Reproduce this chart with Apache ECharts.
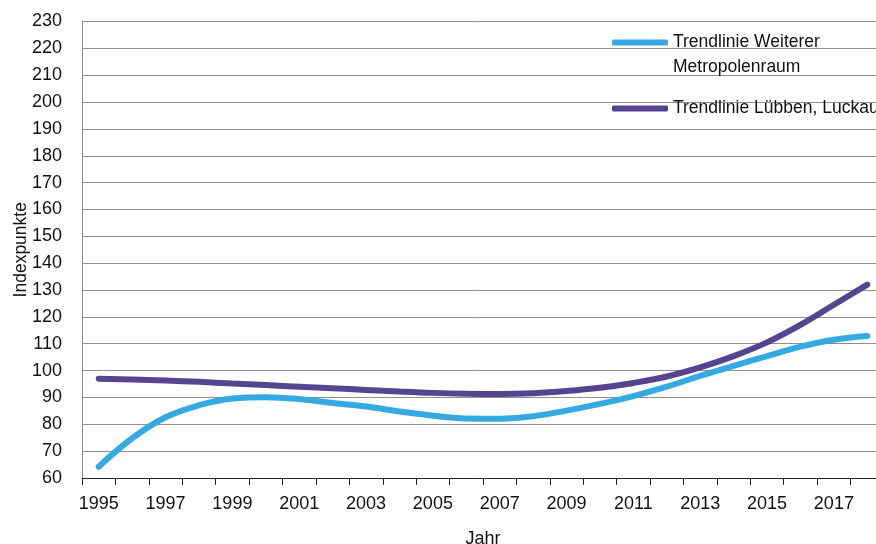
<!DOCTYPE html>
<html>
<head>
<meta charset="utf-8">
<script src="https://cdn.jsdelivr.net/npm/echarts@6/dist/echarts.min.js"></script>
<style>
html,body{margin:0;padding:0;background:#fff;}
#chart{width:876px;height:544px;}
</style>
</head>
<body>
<div id="chart"></div>
<script>
// Jahre (Kategorien)
var years = ['1995','1996','1997','1998','1999','2000','2001','2002','2003','2004','2005','2006',
             '2007','2008','2009','2010','2011','2012','2013','2014','2015','2016','2017','2018'];
// Trendlinie Weiterer Metropolenraum
var metro = [64.2, 74.8, 82.6, 87.1, 89.6, 90.1, 89.4, 87.9, 86.6, 84.8, 83.2, 82.2,
             82.1, 83.0, 85.1, 87.6, 90.5, 94.0, 98.0, 101.8, 105.4, 108.9, 111.5, 112.9];
// Trendlinie Lübben, Luckau
var luebben = [97.0, 96.7, 96.3, 95.8, 95.2, 94.6, 94.0, 93.4, 92.8, 92.2, 91.7, 91.4,
               91.3, 91.6, 92.4, 93.6, 95.4, 97.8, 101.2, 105.4, 110.5, 117.0, 124.5, 132.0];

var nameMetro = 'Trendlinie Weiterer Metropolenraum';
var nameLuebben = 'Trendlinie Lübben, Luckau';

var chart = echarts.init(document.getElementById('chart'));
var font = 'Liberation Sans';
option = {
    animation: false,
    grid: {
        left: 82,
        right: -8,
        top: 21.5,
        bottom: 66,
        containLabel: false,
        outerBoundsMode: 'none'
    },
    legend: {
        orient: 'vertical',
        left: 612,
        top: 5,
        padding: 0,
        itemGap: 16,
        itemWidth: 56,
        itemHeight: 6,
        icon: 'roundRect',
        selectedMode: false,
        data: [nameMetro, nameLuebben],
        formatter: function(name){
            if (name == nameMetro) {
                return '\nTrendlinie Weiterer\nMetropolenraum';
            }
            return name;
        },
        textStyle: {
            fontFamily: font,
            fontSize: 17.5,
            lineHeight: 25,
            color: '#111'
        }
    },
    xAxis: {
        type: 'category',
        data: years,
        boundaryGap: true,
        name: 'Jahr',
        nameLocation: 'middle',
        nameGap: 52,
        nameMoveOverlap: false,
        nameTextStyle: {fontFamily: font, fontSize: 18, color: '#111'},
        axisLine: {lineStyle: {color: '#222', width: 1}},
        axisTick: {show: true, interval: 0, length: 7, lineStyle: {color: '#222'}},
        axisLabel: {interval: 1, margin: 17, fontFamily: font, fontSize: 18, color: '#111'},
        splitLine: {show: false}
    },
    yAxis: {
        type: 'value',
        min: 60,
        max: 230,
        interval: 10,
        name: 'Indexpunkte',
        nameLocation: 'middle',
        nameGap: 52,
        nameMoveOverlap: false,
        nameTextStyle: {fontFamily: font, fontSize: 17.5, color: '#111'},
        axisLine: {show: true, lineStyle: {color: '#888'}},
        axisTick: {show: false},
        axisLabel: {margin: 20, fontFamily: font, fontSize: 18, color: '#111'},
        splitLine: {lineStyle: {color: '#8f8f8f', width: 1}}
    },
    series: [
        {
            name: nameMetro,
            type: 'line',
            data: metro,
            smooth: 0.4,
            symbol: 'none',
            lineStyle: {color: '#35a9e1', width: 6, cap: 'round'},
            itemStyle: {color: '#35a9e1'}
        },
        {
            name: nameLuebben,
            type: 'line',
            data: luebben,
            smooth: 0.4,
            symbol: 'none',
            lineStyle: {color: '#55448f', width: 6, cap: 'round'},
            itemStyle: {color: '#55448f'}
        }
    ]
};
chart.setOption(option);
</script>
</body>
</html>
